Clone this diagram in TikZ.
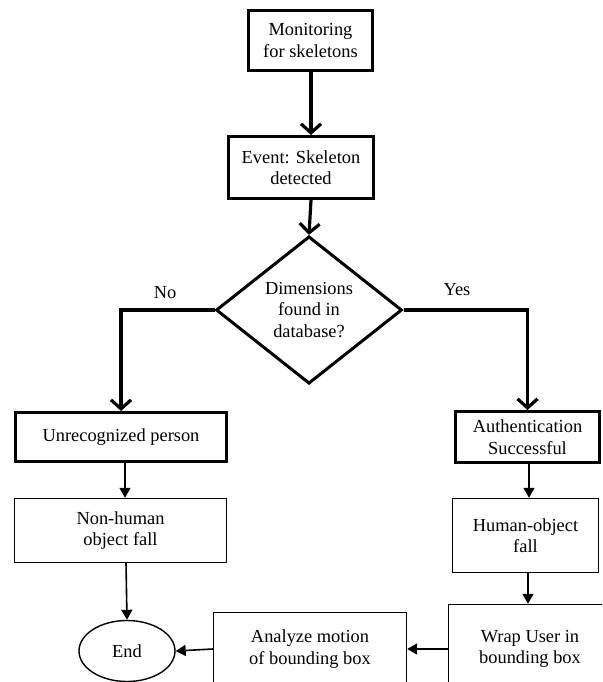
\documentclass[tikz,border=0pt]{standalone}
\usepackage{fontspec}
\setmainfont{Liberation Serif}
\newfontfamily\tnrfont{Liberation Serif}
\usetikzlibrary{arrows.meta,shapes.geometric}
\begin{document}
\begin{tikzpicture}[x=1pt,y=-1pt,
  txt/.style={font=\tnrfont\fontsize{18.4}{21.5}\selectfont, align=center, inner sep=0pt},
  thickbox/.style={txt, draw, line width=3pt, rectangle},
  thinbox/.style={txt, draw, line width=1.4pt, rectangle},
  bigarrow/.style={line width=3.2pt, -{Straight Barb[length=9pt,width=20pt]}},
  smallarrow/.style={line width=1.6pt, -{Triangle[length=10pt,width=11pt]}}]
\useasboundingbox (0,0) rectangle (602,682);
\clip (0,0) rectangle (602,682);
\node[thickbox, minimum width=124pt, minimum height=60pt] (mon) at (310.5,40.5) {Monitoring\\for skeletons};
\node[thickbox, minimum width=145pt, minimum height=62pt] (evt) at (301,167.5) {Event: Skeleton\\detected};
\node[txt, draw, diamond, line width=3pt, minimum width=186pt, minimum height=134pt, inner sep=1pt] (dia) at (309,310) {Dimensions\\found in\\database?};
\node[thickbox, minimum width=211pt, minimum height=49pt] (unrec) at (121,437) {Unrecognized person};
\node[thickbox, minimum width=144pt, minimum height=51pt] (auth) at (527.5,437) {Authentication\\Successful};
\node[thinbox, minimum width=212pt, minimum height=64pt] (nonh) at (120.5,530.5) {Non-human\\object fall};
\node[thinbox, minimum width=146pt, minimum height=74pt] (human) at (525.5,535.5) {Human-object\\fall};
\node[thinbox, minimum width=163pt, minimum height=89pt] (wrap) at (530,649) {Wrap User in\\bounding box};
\node[thinbox, minimum width=193pt, minimum height=73pt] (anal) at (310,649) {Analyze motion\\of bounding box};
\node[txt, draw, ellipse, line width=1.4pt, minimum width=96pt, minimum height=61pt] (end) at (127,651) {End};
\node[txt] (no) at (165,293) {No};
\node[txt] (yes) at (457,290) {Yes};
\draw[bigarrow] (mon.south -| 311,0) -- (311,0 |- evt.north);
\draw[bigarrow] (311,0 |- evt.south) -- (dia.north);
\draw[bigarrow] (dia.west) -| (unrec.north);
\draw[bigarrow] (dia.east) -| (auth.north);
\draw[smallarrow] (unrec.south -| 125,0) -- (125,0 |- nonh.north);
\draw[smallarrow] (nonh.south -| 126,0) -- (end.north);
\draw[smallarrow] (auth.south -| 529,0) -- (529,0 |- human.north);
\draw[smallarrow] (human.south -| 528,0) -- (528,0 |- wrap.north);
\draw[smallarrow] (wrap.west) -- (anal.east);
\draw[smallarrow] (anal.west) -- (end.east);
\end{tikzpicture}
\end{document}
